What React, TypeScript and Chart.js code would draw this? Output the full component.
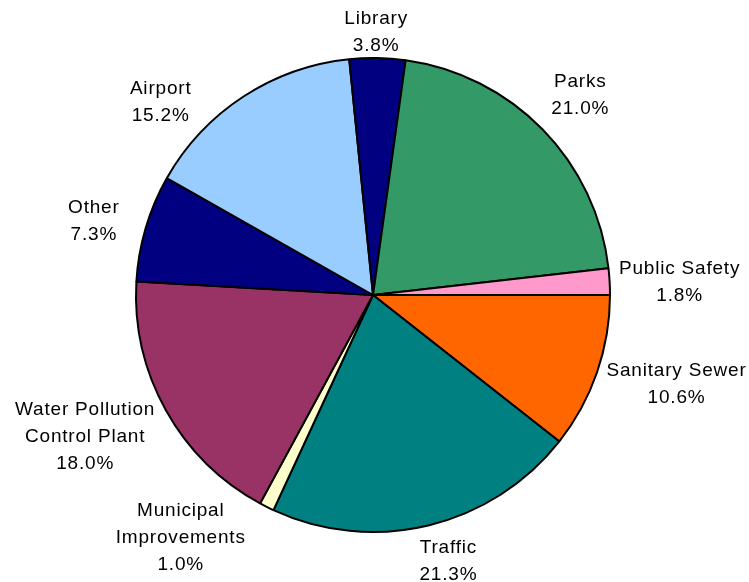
import React, { useEffect, useRef } from "react";
import { Chart, registerables } from "chart.js";

Chart.register(...registerables);

const categories: string[][] = [
  ["Sanitary Sewer"],
  ["Traffic"],
  ["Municipal", "Improvements"],
  ["Water Pollution", "Control Plant"],
  ["Other"],
  ["Airport"],
  ["Library"],
  ["Parks"],
  ["Public Safety"],
];
const shares: number[] = [10.6, 21.3, 1.0, 18.0, 7.3, 15.2, 3.8, 21.0, 1.8];
const sliceColors: string[] = [
  "#FF6600",
  "#008080",
  "#FFFFCC",
  "#993366",
  "#000080",
  "#99CCFF",
  "#000080",
  "#339966",
  "#FF99CC",
];

const FONT_SIZE = 19;
const LINE_H = 27;
const GAP = 6;

// fine nudges of the outside labels (px), as placed by the original's label layout
const labelNudge: [number, number][] = [
  [3, -15],
  [11, -2],
  [-54, -33],
  [-5, -16],
  [-15, 4],
  [-58, 44],
  [-2, 8],
  [5, -2],
  [2, 5],
];

const labelPlugin = {
  id: "outsideLabels",
  afterDatasetsDraw(chart: any) {
    const ctx = chart.ctx as CanvasRenderingContext2D;
    const meta = chart.getDatasetMeta(0);
    ctx.save();
    ctx.font = `${FONT_SIZE}px "Liberation Sans", Arial, sans-serif`;
    try {
      (ctx as any).letterSpacing = "0.8px";
    } catch (e) {}
    ctx.fillStyle = "#000";
    ctx.textAlign = "center";
    ctx.textBaseline = "middle";
    meta.data.forEach((arc: any, i: number) => {
      const p = arc.getProps(["startAngle", "endAngle", "outerRadius", "x", "y"], true);
      const mid = (p.startAngle + p.endAngle) / 2;
      const cos = Math.cos(mid);
      const sin = Math.sin(mid);
      const lines = [...categories[i], shares[i].toFixed(1) + "%"];
      const w = Math.max(...lines.map((l) => ctx.measureText(l).width));
      const h = lines.length * LINE_H;
      const proj = Math.abs(cos) * (w / 2) + Math.abs(sin) * (h / 2);
      const dist = p.outerRadius + GAP + proj;
      const cx = p.x + cos * dist + labelNudge[i][0];
      const cy = p.y + sin * dist + labelNudge[i][1];
      lines.forEach((line, j) => {
        const ly = cy - h / 2 + LINE_H / 2 + j * LINE_H;
        ctx.fillText(line, cx, ly);
      });
    });
    ctx.restore();
  },
};

export default function App() {
  const canvasRef = useRef<HTMLCanvasElement | null>(null);

  useEffect(() => {
    document.body.style.margin = "0";
    const canvas = canvasRef.current;
    if (!canvas) return;
    const chart = new Chart(canvas, {
      type: "pie",
      data: {
        labels: categories.map((c) => c.join(" ")),
        datasets: [
          {
            data: shares,
            backgroundColor: sliceColors,
            borderColor: "#000000",
            borderWidth: 2,
          },
        ],
      },
      options: {
        animation: false,
        responsive: false,
        rotation: 90,
        layout: {
          padding: { left: 135, right: 138, top: 57, bottom: 49 },
        },
        plugins: {
          legend: { display: false },
          tooltip: { enabled: false },
        },
      },
      plugins: [labelPlugin],
    });
    return () => chart.destroy();
  }, []);

  return (
    <div style={{ width: 749, height: 582, background: "#fff" }}>
      <canvas ref={canvasRef} width={749} height={582} style={{ display: "block" }} />
    </div>
  );
}
